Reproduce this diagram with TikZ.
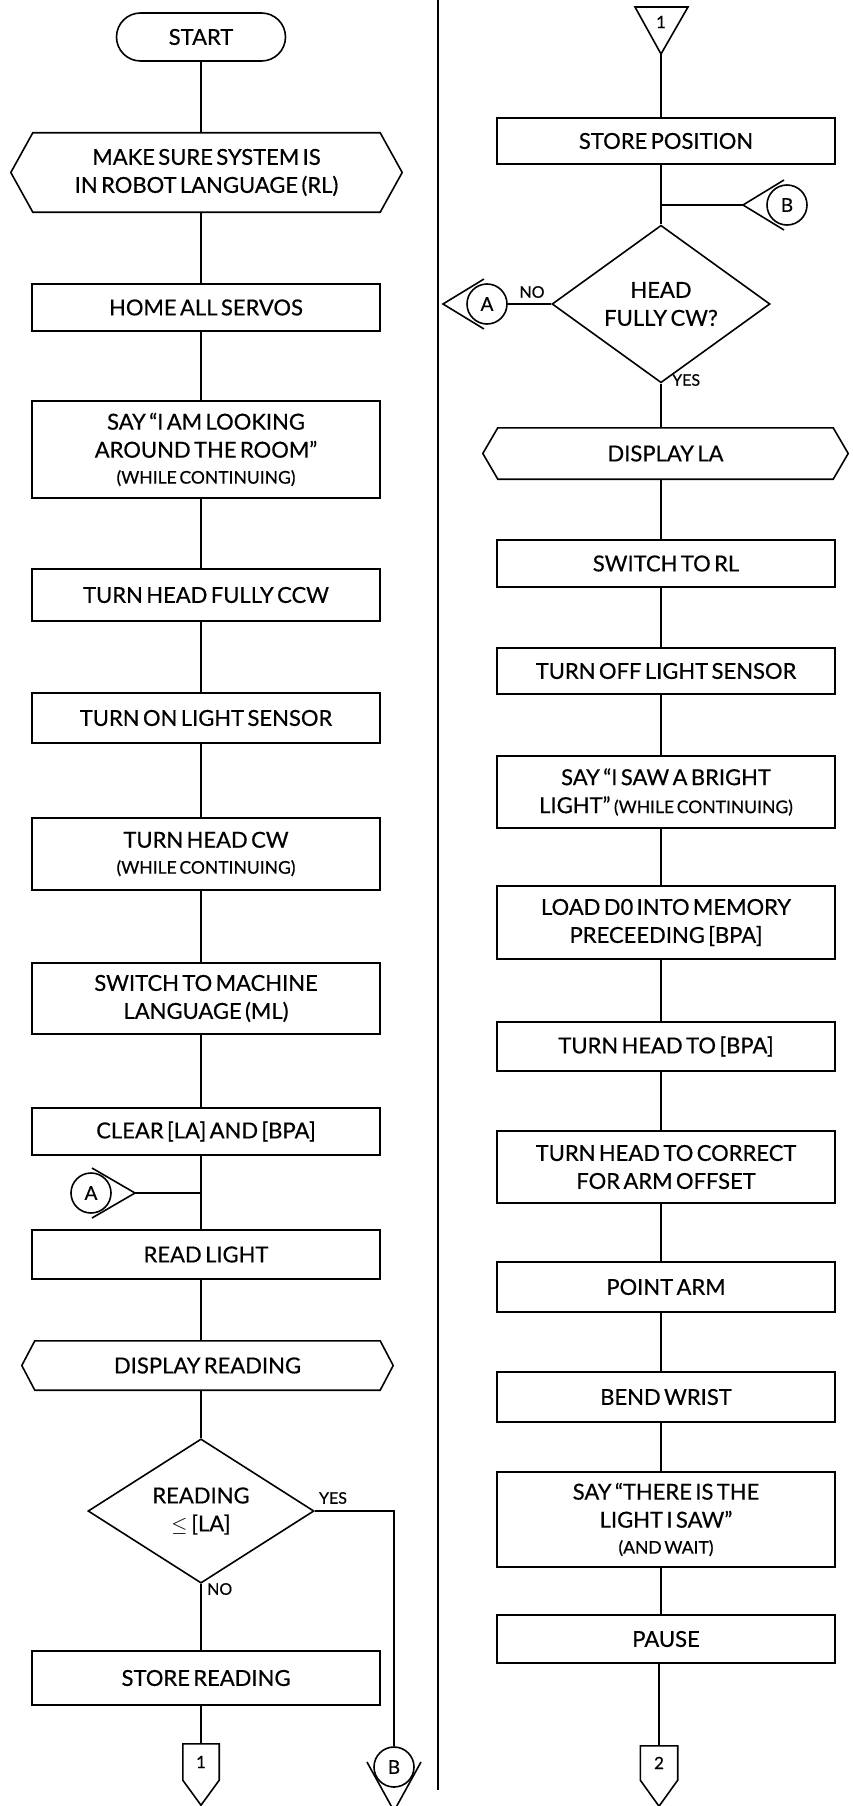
\documentclass[tikz,border=0pt]{standalone}
\usepackage{fontspec}
\setmainfont{Lato}[WordSpace=0.6, FakeBold=0.5]
\usetikzlibrary{shapes.geometric,shapes.misc,calc}
\newcommand\fbig{\fontsize{22}{28}\selectfont}
\newcommand\fsmall{\fontsize{17.5}{20}\selectfont}
\newcommand\flab{\fontsize{16}{19}\selectfont}
\newcommand\hexpath[2]{\draw[ln] (#1.north west) -- (#1.north east) -- ([xshift=#2pt]#1.east) -- (#1.south east) -- (#1.south west) -- ([xshift=-#2pt]#1.west) -- cycle;}
\tikzset{
  ln/.style={line width=1.6pt, line join=miter},
  lbox/.style={draw, ln, rectangle, inner sep=0pt, align=center, font=\fbig, minimum width=348pt},
  rbox/.style={draw, ln, rectangle, inner sep=0pt, align=center, font=\fbig, minimum width=338pt},
  hexb/.style={rectangle, inner sep=0pt, align=center, font=\fbig},
  term/.style={draw, ln, rounded rectangle, inner sep=0pt, font=\fbig, minimum width=169pt, minimum height=48pt},
  dia/.style={draw, ln, diamond, inner sep=0pt, align=center, font=\fbig},
  lab/.style={inner sep=0pt, font=\flab},
  conc/.style={draw, ln, circle, inner sep=0pt, minimum size=40pt, font=\fontsize{19}{22}\selectfont},
  offp/.style={rectangle, inner sep=0pt, font=\fontsize{17}{20}\selectfont}
}
\begin{document}
\begin{tikzpicture}[x=1pt,y=-1pt]
\useasboundingbox (0,0) rectangle (853,1806);
\coordinate (L) at (201,0);
\coordinate (R) at (661,0);

% divider
\draw[line width=1.3pt] (438,0) -- (438,1790);

% ---------- left column ----------
\node[term] (start) at (201,37) {START};
\node[hexb, minimum width=347pt, minimum height=79pt] (make) at (206.5,172.5) {MAKE SURE SYSTEM IS\\IN ROBOT LANGUAGE (RL)};
\hexpath{make}{22}
\node[lbox, minimum height=47pt] (home) at (206,307.5) {HOME ALL SERVOS};
\node[lbox, minimum height=97pt] (say1) at (206,449.5) {SAY “I AM LOOKING\\AROUND THE ROOM”\\[-2pt]{\fsmall (WHILE CONTINUING)}};
\node[lbox, minimum height=52pt] (ccw) at (206,595) {TURN HEAD FULLY CCW};
\node[lbox, minimum height=50pt] (on) at (206,718) {TURN ON LIGHT SENSOR};
\node[lbox, minimum height=72pt] (cw) at (206,854) {TURN HEAD CW\\[-2pt]{\fsmall (WHILE CONTINUING)}};
\node[lbox, minimum height=71pt] (ml) at (206,998.5) {SWITCH TO MACHINE\\LANGUAGE (ML)};
\node[lbox, minimum height=47pt] (clear) at (206,1131.5) {CLEAR [LA] AND [BPA]};
\node[conc] (conA1) at (91,1193) {A};
\coordinate (tipA1) at (135,1193);
\node[lbox, minimum height=49pt] (read) at (206,1254.5) {READ LIGHT};
\node[hexb, minimum width=345pt, minimum height=49pt] (dispR) at (207.5,1365.5) {DISPLAY READING};
\hexpath{dispR}{13}
\node[dia, minimum width=226pt, minimum height=129pt] (dec1) at (201,1511) {READING\\$\leq$\,[LA]};
\node[lab] (yes1) at (333,1498) {YES};
\node[lab, anchor=west] (no1) at (207,1589) {NO};
\node[lbox, minimum height=54pt] (storeR) at (206,1678) {STORE READING};
\node[offp, minimum width=36pt, minimum height=36pt] (off1) at (201,1762) {1};
\draw[ln] (off1.north west) -- (off1.north east) -- (off1.south east) -- ([yshift=-25pt]off1.south) -- (off1.south west) -- cycle;
\node[conc] (conB1) at (394,1767) {B};
\coordinate (tipB1) at (394,1811);

% left connectors
\draw[ln] (start.south) -- (make.north -| L);
\draw[ln] (make.south -| L) -- (home.north -| L);
\draw[ln] (home.south -| L) -- (say1.north -| L);
\draw[ln] (say1.south -| L) -- (ccw.north -| L);
\draw[ln] (ccw.south -| L) -- (on.north -| L);
\draw[ln] (on.south -| L) -- (cw.north -| L);
\draw[ln] (cw.south -| L) -- (ml.north -| L);
\draw[ln] (ml.south -| L) -- (clear.north -| L);
\draw[ln] (clear.south -| L) -- (read.north -| L);
\draw[ln] ($(conA1.center)+(1,-25)$) -- (tipA1) -- ($(conA1.center)+(1,25)$);
\draw[ln] (tipA1) -- (tipA1 -| L);
\draw[ln] (read.south -| L) -- (dispR.north -| L);
\draw[ln] (dispR.south -| L) -- (dec1.north);
\draw[ln] (dec1.south) -- (storeR.north -| L);
\draw[ln] (dec1.east) -| (conB1.north);
\draw[ln] (storeR.south -| L) -- (off1.north);
\draw[ln] ($(conB1.center)+(-27,-5)$) -- (tipB1) -- ($(conB1.center)+(27,-5)$);

% ---------- right column ----------
\node[offp] (c1) at (661,22) {1};
\draw[ln] ([shift={(-26,-15)}]c1.center) -- ([shift={(27,-15)}]c1.center) -- ([shift={(0,32)}]c1.center) coordinate (t1) -- cycle;
\node[rbox, minimum height=46pt] (storeP) at (666,141) {STORE POSITION};
\node[conc] (conB2) at (787,205) {B};
\coordinate (tipB2) at (743,205);
\node[dia, minimum width=218pt, minimum height=125pt] (dec2) at (661,304) {HEAD\\FULLY CW?};
\node[lab] (no2) at (532,292) {NO};
\node[lab, anchor=west] (yes2) at (672,380) {YES};
\node[conc] (conA2) at (487,304) {A};
\coordinate (tipA2) at (443,304);
\node[hexb, minimum width=335pt, minimum height=51pt] (dispLA) at (665.5,453.5) {DISPLAY LA};
\hexpath{dispLA}{15}
\node[rbox, minimum height=47pt] (rl) at (666,563.5) {SWITCH TO RL};
\node[rbox, minimum height=46pt] (off) at (666,671) {TURN OFF LIGHT SENSOR};
\node[rbox, minimum height=72pt] (saw) at (666,792) {SAY “I SAW A BRIGHT\\LIGHT” {\fsmall (WHILE CONTINUING)}};
\node[rbox, minimum height=73pt] (load) at (666,922.5) {LOAD D0 INTO MEMORY\\PRECEEDING [BPA]};
\node[rbox, minimum height=49pt] (bpa) at (666,1046.5) {TURN HEAD TO [BPA]};
\node[rbox, minimum height=72pt] (corr) at (666,1167) {TURN HEAD TO CORRECT\\FOR ARM OFFSET};
\node[rbox, minimum height=50pt] (point) at (666,1287) {POINT ARM};
\node[rbox, minimum height=50pt] (bend) at (666,1397) {BEND WRIST};
\node[rbox, minimum height=95pt] (there) at (666,1519.5) {SAY “THERE IS THE\\LIGHT I SAW”\\[-2pt]{\fsmall (AND WAIT)}};
\node[rbox, minimum height=48pt] (pause) at (666,1639) {PAUSE};
\node[offp, minimum width=37pt, minimum height=34pt] (off2) at (659,1763) {2};
\draw[ln] (off2.north west) -- (off2.north east) -- (off2.south east) -- ([yshift=-26pt]off2.south) -- (off2.south west) -- cycle;

% right connectors
\draw[ln] (t1) -- (storeP.north -| R);
\draw[ln] (storeP.south -| R) -- (dec2.north);
\draw[ln] ($(conB2.center)+(-3,-25)$) -- (tipB2) -- ($(conB2.center)+(-3,25)$);
\draw[ln] (tipB2) -- (tipB2 -| R);
\draw[ln] (dec2.west) -- (conA2.east);
\draw[ln] ($(conA2.center)+(-3,-25)$) -- (tipA2) -- ($(conA2.center)+(-3,25)$);
\draw[ln] (dec2.south) -- (dispLA.north -| R);
\draw[ln] (dispLA.south -| R) -- (rl.north -| R);
\draw[ln] (rl.south -| R) -- (off.north -| R);
\draw[ln] (off.south -| R) -- (saw.north -| R);
\draw[ln] (saw.south -| R) -- (load.north -| R);
\draw[ln] (load.south -| R) -- (bpa.north -| R);
\draw[ln] (bpa.south -| R) -- (corr.north -| R);
\draw[ln] (corr.south -| R) -- (point.north -| R);
\draw[ln] (point.south -| R) -- (bend.north -| R);
\draw[ln] (bend.south -| R) -- (there.north -| R);
\draw[ln] (there.south -| R) -- (pause.north -| R);
\draw[ln] (pause.south -| off2) -- (off2.north);
\end{tikzpicture}
\end{document}
